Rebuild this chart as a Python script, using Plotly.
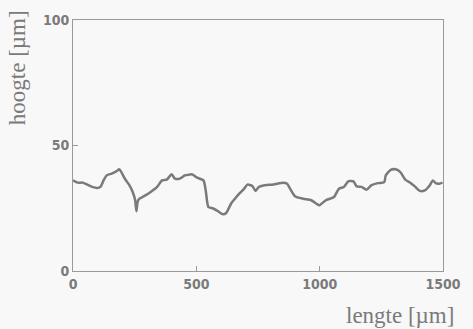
import plotly.graph_objects as go

lengte = [0, 19, 39, 58, 78, 98, 111, 124, 137, 157, 177, 187, 196, 210, 229, 242, 252, 257, 262, 269,
          288, 315, 341, 361, 380, 400, 413, 433, 453, 472, 483, 503, 529, 538, 549, 568, 588, 608, 621,
          641, 654, 674, 694, 707, 727, 740, 753, 773, 813, 852, 868, 880, 900, 933, 966, 986, 999,
          1025, 1058, 1078, 1098, 1117, 1137, 1150, 1170, 1190, 1209, 1236, 1262, 1268, 1288, 1308,
          1327, 1347, 1367, 1386, 1406, 1426, 1446, 1459, 1470, 1485, 1498]
hoogte = [36.1, 35.2, 35.2, 34.4, 33.5, 33.1, 33.5, 36.1, 38.1, 38.8, 39.8, 40.5, 39.4, 36.8, 34.1,
          31.5, 28.2, 23.8, 27.5, 28.8, 29.8, 31.5, 33.5, 36.1, 36.4, 38.5, 36.8, 36.8, 38.1, 38.4,
          38.5, 37.2, 36.1, 32.1, 25.5, 24.9, 23.8, 22.6, 23.1, 26.9, 28.5, 30.8, 32.8, 34.4, 33.9,
          31.9, 33.5, 34.1, 34.5, 35.2, 34.8, 32.8, 29.8, 28.8, 28.2, 26.9, 26.2, 28.2, 29.5, 32.8,
          33.5, 35.8, 35.7, 33.7, 33.5, 32.4, 34.1, 35.0, 35.4, 38.1, 40.3, 40.5, 39.4, 36.4, 35.2,
          33.7, 31.9, 32.1, 34.1, 36.1, 35.0, 34.8, 35.2]
x_ticks = [0, 500, 1000, 1500]
y_ticks = [0, 50, 100]

fig = go.Figure()
fig.add_trace(go.Scatter(x=lengte, y=hoogte, mode="lines",
                         line=dict(color="#7a7a7a", width=2.5, shape="spline", smoothing=0.6),
                         showlegend=False, hoverinfo="skip"))

tickfont = dict(family="DejaVu Sans Condensed", size=14, color="#7a7a7a", weight="bold")
axis_common = dict(showgrid=False, zeroline=False, showline=True, linecolor="#9a9a9a",
                   linewidth=1, mirror=True, ticks="inside", ticklen=5, tickcolor="#9a9a9a",
                   tickfont=tickfont)

fig.update_layout(
    width=473, height=329,
    margin=dict(l=73, r=19, t=19, b=58),
    paper_bgcolor="#f8f8f8", plot_bgcolor="#f8f8f8",
    xaxis=dict(range=[0, 1500], tickvals=x_ticks, ticktext=[str(v) for v in x_ticks], **axis_common),
    yaxis=dict(range=[0, 100], tickvals=y_ticks, ticktext=[str(v) for v in y_ticks], **axis_common),
    annotations=[
        dict(text="lengte [µm]", xref="paper", yref="paper", x=1.035, y=-0.179,
             xanchor="right", yanchor="middle", showarrow=False,
             font=dict(family="Liberation Serif", size=23, color="#7a7a7a")),
        dict(text="hoogte [µm]", xref="paper", yref="paper", x=-0.15, y=0.81,
             xanchor="center", yanchor="middle", textangle=-90, showarrow=False,
             font=dict(family="Liberation Serif", size=23, color="#7a7a7a")),
    ],
)

fig.write_html("out.html")
